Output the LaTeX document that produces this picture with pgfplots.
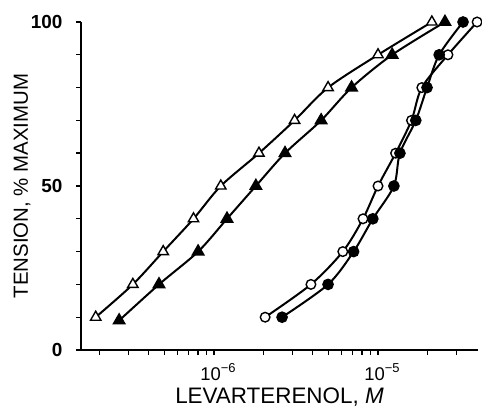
\documentclass[border=0pt]{standalone}
\usepackage{fontspec}
\setmainfont{Liberation Sans}
\usepackage{pgfplots}
\pgfplotsset{compat=1.18}
\begin{document}
\begin{tikzpicture}
\begin{axis}[
  scale only axis,
  width=397bp, height=328bp,
  xmode=log,
  xmin=1.545e-7, xmax=4.07e-5,
  ymin=0, ymax=100,
  axis x line=bottom, axis y line=left,
  axis line style={-, line width=1.6bp},
  clip=false,
  tick align=outside,
  major tick length=5bp, minor tick length=5bp,
  every tick/.style={black, line width=1.4bp},
  xtick={1e-6,1e-5},
  xticklabels={{\fontsize{18.5}{19}\selectfont 10\raisebox{0.42em}{\fontsize{13}{13}\selectfont −6}},{\fontsize{18.5}{19}\selectfont 10\raisebox{0.42em}{\fontsize{13}{13}\selectfont −5}}},
  minor xtick={2e-7,3e-7,4e-7,5e-7,6e-7,7e-7,8e-7,9e-7,2e-6,3e-6,4e-6,5e-6,6e-6,7e-6,8e-6,9e-6,2e-5,3e-5},
  ytick={0,50,100},
  minor ytick={10,20,30,40,60,70,80,90},
  /pgf/number format/assume math mode=true,
  yticklabel style={font=\fontsize{19}{20}\selectfont\bfseries, xshift=-10bp},
  xticklabel style={anchor=base, yshift=-25bp, xshift=4bp},
  xlabel={LEVARTERENOL, \textit{M}},
  ylabel={TENSION, \% MAXIMUM},
  every axis x label/.style={at={(axis description cs:0.5,0)}, anchor=base, yshift=-53bp, font=\fontsize{22.5}{24}\selectfont},
  every axis y label/.style={at={(axis description cs:-0.1486,0.5)}, anchor=center, rotate=90, font=\fontsize{20.5}{24}\selectfont},
]
\addplot[black, line width=2bp, smooth, mark=triangle*, mark size=6bp, mark options={fill=white, line width=1.4bp}] coordinates {
(1.9e-7,10) (3.2e-7,20) (4.9e-7,30) (7.5e-7,40) (1.1e-6,50) (1.88e-6,60) (3.1e-6,70) (4.96e-6,80) (1.0e-5,90) (2.13e-5,100)
};
\addplot[black, line width=2bp, smooth, mark=triangle*, mark size=6bp, mark options={fill=black}] coordinates {
(2.64e-7,9) (4.62e-7,20) (8.0e-7,30) (1.2e-6,40) (1.8e-6,50) (2.71e-6,60) (4.5e-6,70) (6.9e-6,80) (1.22e-5,90) (2.56e-5,100)
};
\addplot[black, line width=2bp, smooth, mark=*, mark size=4.8bp, mark options={fill=white, line width=1.4bp}] coordinates {
(2.05e-6,10) (3.9e-6,20) (6.1e-6,30) (8.1e-6,40) (1.0e-5,50) (1.28e-5,60) (1.6e-5,70) (1.85e-5,80) (2.67e-5,90) (4.02e-5,100)
};
\addplot[black, line width=2bp, smooth, mark=*, mark size=4.8bp, mark options={fill=black}] coordinates {
(2.6e-6,10) (4.96e-6,20) (7.1e-6,30) (9.3e-6,40) (1.25e-5,50) (1.36e-5,60) (1.7e-5,70) (1.99e-5,80) (2.36e-5,90) (3.3e-5,100)
};
\end{axis}
\pgfresetboundingbox
\path (-81bp,-57bp) rectangle (401bp,350bp);
\end{tikzpicture}
\end{document}
